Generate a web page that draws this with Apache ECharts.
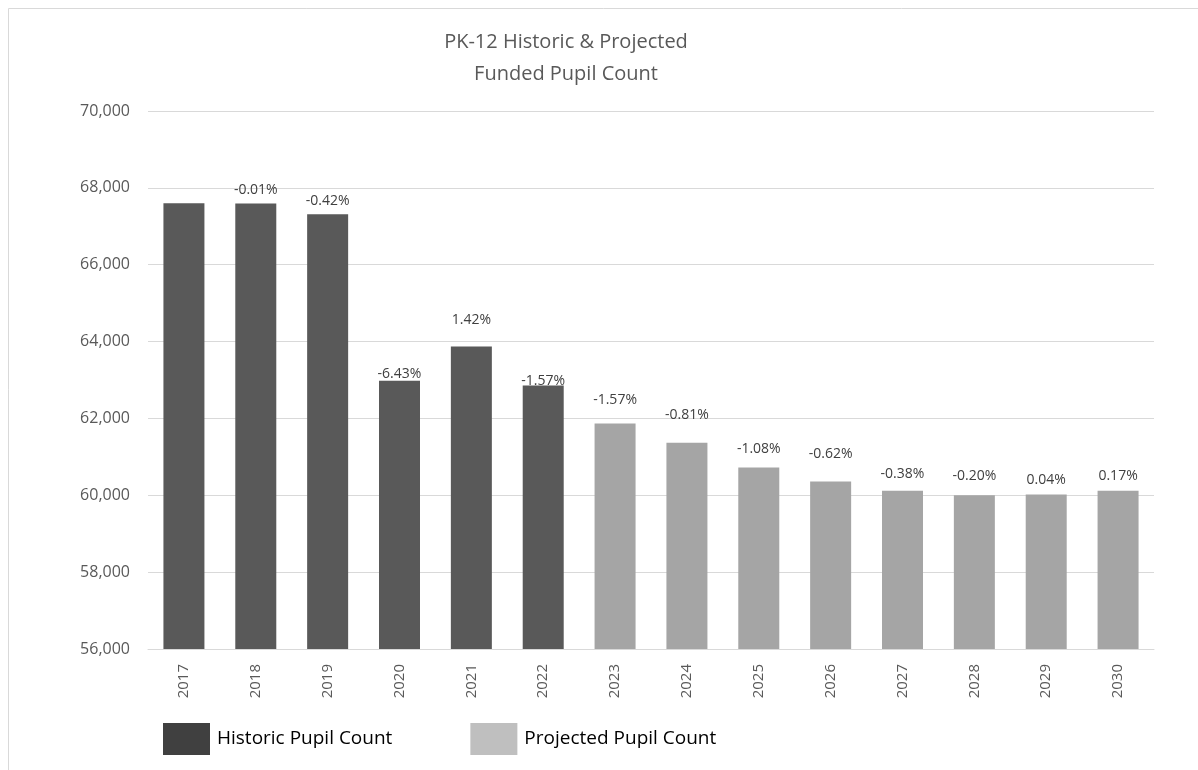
<!DOCTYPE html>
<html>
<head>
<meta charset="utf-8">
<script src="https://cdn.jsdelivr.net/npm/echarts@6/dist/echarts.min.js"></script>
<style>
  html, body { margin: 0; padding: 0; background: #fff; }
  #chart { width: 1198px; height: 770px; }
</style>
</head>
<body>
<div id="chart"></div>
<script>
var years = ['2017', '2018', '2019', '2020', '2021', '2022', '2023',
             '2024', '2025', '2026', '2027', '2028', '2029', '2030'];
var historic = [67600, 67590, 67310, 62980, 63870, 62860, '-', '-', '-', '-', '-', '-', '-', '-'];
var projected = ['-', '-', '-', '-', '-', '-', 61870, 61370, 60720, 60360, 60120, 60000, 60020, 60120];
var changes = ['', '-0.01%', '-0.42%', '-6.43%', '1.42%', '-1.57%', '-1.57%',
               '-0.81%', '-1.08%', '-0.62%', '-0.38%', '-0.20%', '0.04%', '0.17%'];
// how far each label floats above its bar (excel placed them by hand)
var labelLift = [14, 7, 6, 0, 20, -3, 16, 21, 12, 20, 10, 12, 8, 8];

var font = '"Open Sans", sans-serif';

function items(vals) {
    return vals.map(function (v, i) {
        if (v === '-') return v;
        return { value: v, label: { distance: labelLift[i] } };
    });
}

var labelOpt = {
    show: true,
    position: 'top',
    color: '#404040',
    fontSize: 14,
    fontFamily: font,
    formatter: function (p) { return changes[p.dataIndex]; }
};

var chart = echarts.init(document.getElementById('chart'));
chart.setOption({
    animation: false,
    graphic: [{
        type: 'rect',
        shape: { x: 8.5, y: 8.5, width: 1300, height: 900 },
        style: { fill: 'none', stroke: '#d9d9d9', lineWidth: 1 },
        silent: true
    }, {
        type: 'text',
        x: 566,
        y: 26,
        style: {
            text: 'PK-12 Historic & Projected\nFunded Pupil Count',
            fill: '#595959',
            font: '20px ' + font,
            lineHeight: 32,
            align: 'center'
        }
    }],
    grid: { left: 148, right: 44, top: 111, bottom: 121 },
    legend: {
        left: 158,
        top: 718,
        itemWidth: 47,
        itemHeight: 32,
        itemGap: 78,
        textStyle: { color: '#000', fontSize: 19, fontFamily: font, padding: [0, 0, 0, 2] },
        icon: 'rect',
        data: [
            { name: 'Historic Pupil Count', itemStyle: { color: '#404040' } },
            { name: 'Projected Pupil Count', itemStyle: { color: '#bfbfbf' } }
        ]
    },
    xAxis: {
        type: 'category',
        data: years,
        axisLine: { lineStyle: { color: '#d9d9d9', width: 1 } },
        axisTick: { show: false },
        axisLabel: { rotate: 90, color: '#595959', fontSize: 15, fontFamily: font, margin: 15 }
    },
    yAxis: {
        type: 'value',
        min: 56000,
        max: 70000,
        interval: 2000,
        axisLine: { show: false },
        axisTick: { show: false },
        splitLine: { lineStyle: { color: '#d9d9d9', width: 1 } },
        axisLabel: {
            color: '#595959', fontSize: 16, fontFamily: font, margin: 18,
            formatter: function (v) { return v.toLocaleString('en-US'); }
        }
    },
    series: [{
        name: 'Historic Pupil Count',
        type: 'bar',
        stack: 'count',
        barWidth: 41,
        itemStyle: { color: '#595959' },
        label: labelOpt,
        data: items(historic)
    }, {
        name: 'Projected Pupil Count',
        type: 'bar',
        stack: 'count',
        barWidth: 41,
        itemStyle: { color: '#a5a5a5' },
        label: labelOpt,
        data: items(projected)
    }]
});
</script>
</body>
</html>
